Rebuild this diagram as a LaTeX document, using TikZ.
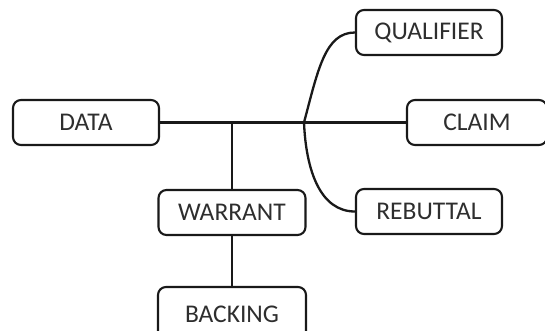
\documentclass[tikz,border=0pt]{standalone}
\usepackage{fontspec}
\setmainfont{Carlito}
\begin{document}
\begin{tikzpicture}[x=1pt,y=-1pt,
  box/.style={draw=black!90, line width=2.1pt, rounded corners=8pt, minimum height=45pt, inner sep=0pt,
    font=\fontsize{25.5}{30}\selectfont, text=black!82},
  link/.style={draw=black!90, line width=2.3pt}]
\useasboundingbox (0,0) rectangle (545,331);
\clip (0,0) rectangle (545,331);
\node[box, minimum width=146pt] (data) at (86,122.5) {DATA};
\node[box, minimum width=146pt] (qual) at (429,32.5) {QUALIFIER};
\node[box, minimum width=140pt] (claim) at (477,122.5) {CLAIM};
\node[box, minimum width=146pt] (reb) at (429,211.5) {REBUTTAL};
\node[box, minimum width=147pt] (war) at (232,212.5) {WARRANT};
\node[box, minimum width=148pt, minimum height=54pt] (back) at (232,314) {BACKING};
\coordinate (j1) at (232,122.5);
\coordinate (j2) at (304,122.5);
\draw[link] (data) -- (claim);
\draw[link] (j1) -- (war);
\draw[link] (war) -- (back);
\draw[link] (j2) .. controls (318,70) and (325,32.5) .. (qual.west);
\draw[link] (j2) .. controls (306,170) and (320,211.5) .. (reb.west);
\end{tikzpicture}
\end{document}
